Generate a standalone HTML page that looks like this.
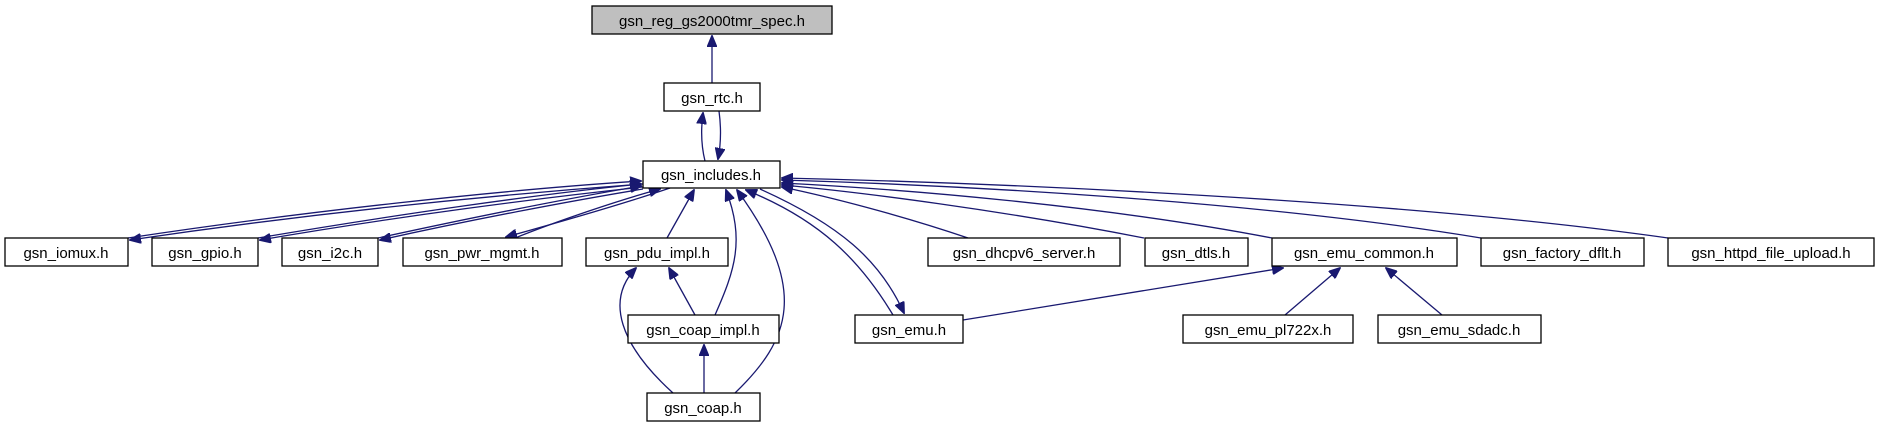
<!DOCTYPE html>
<html><head><meta charset="utf-8"><style>
html,body{margin:0;padding:0;background:#fff;}
svg{display:block;}
text{font-family:"Liberation Sans",sans-serif;font-size:15px;fill:#000;}
.b{fill:#fff;stroke:#000;stroke-width:1.3;}
.e{fill:none;stroke:#191970;stroke-width:1.3;}
</style></head><body>
<svg width="1879" height="427" viewBox="0 0 1879 427" xmlns="http://www.w3.org/2000/svg">
<defs>
<marker id="a" markerWidth="12" markerHeight="10" refX="11" refY="5" orient="auto" markerUnits="userSpaceOnUse">
<path d="M0,0 L12,5 L0,10 Z" fill="#191970" stroke="#191970"/>
</marker>
</defs>

<path class="e" d="M712,83 L712,36" marker-end="url(#a)"/>
<path class="e" d="M705,161 C701,145 701,128 703,113" marker-end="url(#a)"/>
<path class="e" d="M719,111 C721,126 721,144 718,159" marker-end="url(#a)"/>

<path class="e" d="M128,238 C300,212 500,190 641,181" marker-end="url(#a)"/>
<path class="e" d="M643,184 C480,196 300,215 130,240" marker-end="url(#a)"/>
<path class="e" d="M258,238 C400,214 540,194 641,184" marker-end="url(#a)"/>
<path class="e" d="M643,187 C540,198 400,216 260,240" marker-end="url(#a)"/>
<path class="e" d="M378,238 C470,218 570,198 641,186" marker-end="url(#a)"/>
<path class="e" d="M643,189 C570,201 470,220 380,240" marker-end="url(#a)"/>
<path class="e" d="M515,238 C560,220 620,200 660,189" marker-end="url(#a)"/>
<path class="e" d="M670,188 C620,205 560,222 506,237" marker-end="url(#a)"/>

<path class="e" d="M667,238 L694,190" marker-end="url(#a)"/>
<path class="e" d="M695,315 L669,268" marker-end="url(#a)"/>
<path class="e" d="M715,315 C735,270 745,240 726,190" marker-end="url(#a)"/>
<path class="e" d="M673,393 C620,345 605,300 636,268" marker-end="url(#a)"/>
<path class="e" d="M704,393 L704,345" marker-end="url(#a)"/>
<path class="e" d="M735,393 C790,340 810,290 737,190" marker-end="url(#a)"/>
<path class="e" d="M893,315 C860,260 820,220 746,190" marker-end="url(#a)"/>
<path class="e" d="M760,189 C840,225 880,260 904,313" marker-end="url(#a)"/>

<path class="e" d="M968,238 C900,215 830,197 782,187" marker-end="url(#a)"/>
<path class="e" d="M1144,238 C1000,210 860,192 782,185" marker-end="url(#a)"/>
<path class="e" d="M1272,238 C1100,205 900,189 782,183" marker-end="url(#a)"/>
<path class="e" d="M1481,238 C1250,200 950,185 782,180" marker-end="url(#a)"/>
<path class="e" d="M1668,238 C1400,200 1000,183 782,178" marker-end="url(#a)"/>

<path class="e" d="M963,320 L1283,268" marker-end="url(#a)"/>
<path class="e" d="M1285,315 L1340,268" marker-end="url(#a)"/>
<path class="e" d="M1442,315 L1386,268" marker-end="url(#a)"/>

<rect x="592" y="6" width="240" height="28" fill="#bfbfbf" stroke="#000" stroke-width="1.3"/>
<text x="712" y="26" text-anchor="middle">gsn_reg_gs2000tmr_spec.h</text>
<rect class="b" x="664" y="83" width="96" height="28"/><text x="712" y="103" text-anchor="middle">gsn_rtc.h</text>
<rect class="b" x="643" y="161" width="137" height="27"/><text x="711" y="180" text-anchor="middle">gsn_includes.h</text>

<rect class="b" x="5" y="238" width="123" height="28"/><text x="66" y="258" text-anchor="middle">gsn_iomux.h</text>
<rect class="b" x="152" y="238" width="106" height="28"/><text x="205" y="258" text-anchor="middle">gsn_gpio.h</text>
<rect class="b" x="282" y="238" width="96" height="28"/><text x="330" y="258" text-anchor="middle">gsn_i2c.h</text>
<rect class="b" x="403" y="238" width="159" height="28"/><text x="482" y="258" text-anchor="middle">gsn_pwr_mgmt.h</text>
<rect class="b" x="586" y="238" width="142" height="28"/><text x="657" y="258" text-anchor="middle">gsn_pdu_impl.h</text>
<rect class="b" x="928" y="238" width="192" height="28"/><text x="1024" y="258" text-anchor="middle">gsn_dhcpv6_server.h</text>
<rect class="b" x="1145" y="238" width="103" height="28"/><text x="1196" y="258" text-anchor="middle">gsn_dtls.h</text>
<rect class="b" x="1272" y="238" width="185" height="28"/><text x="1364" y="258" text-anchor="middle">gsn_emu_common.h</text>
<rect class="b" x="1481" y="238" width="163" height="28"/><text x="1562" y="258" text-anchor="middle">gsn_factory_dflt.h</text>
<rect class="b" x="1668" y="238" width="206" height="28"/><text x="1771" y="258" text-anchor="middle">gsn_httpd_file_upload.h</text>

<rect class="b" x="628" y="315" width="151" height="28"/><text x="703" y="335" text-anchor="middle">gsn_coap_impl.h</text>
<rect class="b" x="855" y="315" width="108" height="28"/><text x="909" y="335" text-anchor="middle">gsn_emu.h</text>
<rect class="b" x="1183" y="315" width="170" height="28"/><text x="1268" y="335" text-anchor="middle">gsn_emu_pl722x.h</text>
<rect class="b" x="1378" y="315" width="163" height="28"/><text x="1459" y="335" text-anchor="middle">gsn_emu_sdadc.h</text>

<rect class="b" x="647" y="393" width="113" height="28"/><text x="703" y="413" text-anchor="middle">gsn_coap.h</text>
</svg>
</body></html>
